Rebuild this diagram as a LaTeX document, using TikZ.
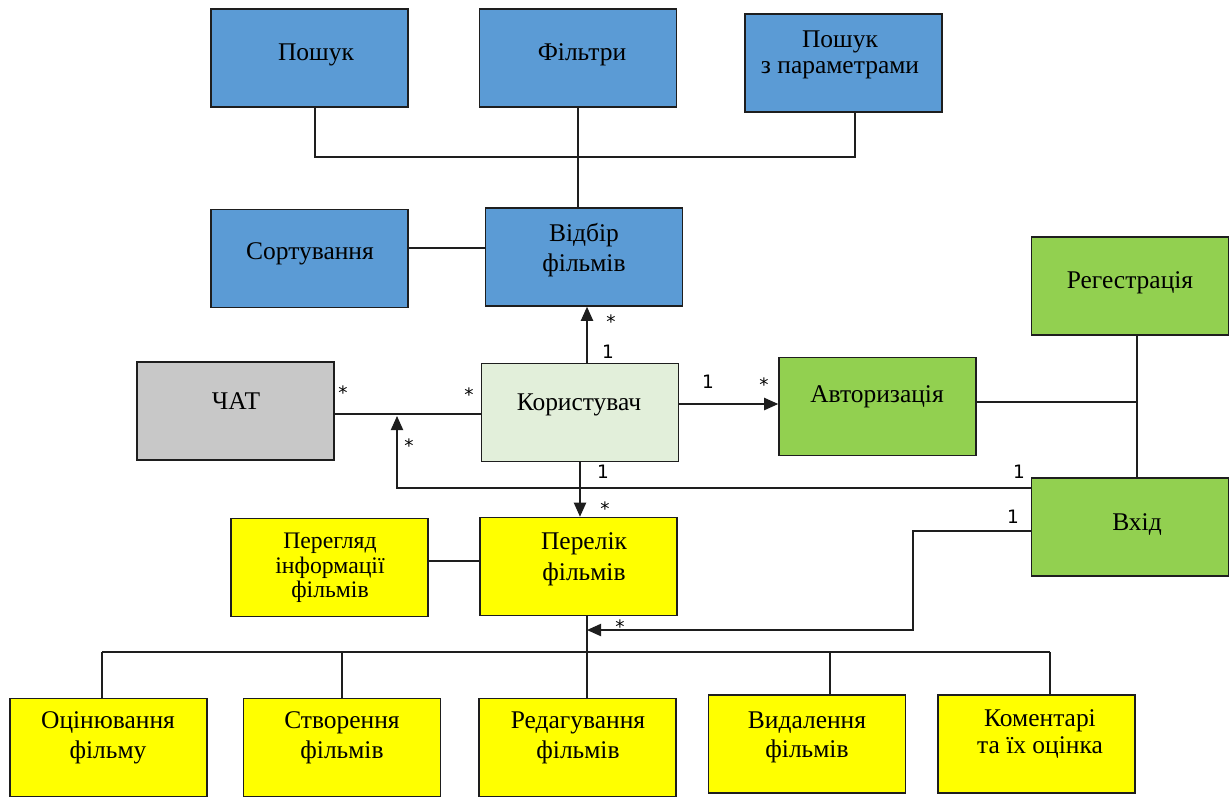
\documentclass[tikz,border=0pt]{standalone}
\usepackage{fontspec}
\setmainfont{Liberation Serif}
\newfontfamily\numfont{DejaVu Sans}
\usetikzlibrary{arrows.meta,calc}
\definecolor{cblue}{RGB}{91,155,213}
\definecolor{cgreen}{RGB}{146,208,80}
\definecolor{cyel}{RGB}{255,255,0}
\definecolor{cgray}{RGB}{200,200,200}
\definecolor{clight}{RGB}{226,239,218}
\definecolor{cline}{RGB}{30,30,30}
\begin{document}
\begin{tikzpicture}[x=0.02cm,y=-0.02cm,
  box/.style={draw=cline,line width=0.9pt,minimum width=3.94cm,minimum height=1.96cm,inner sep=0pt},
  bluebox/.style={box,fill=cblue},
  greenbox/.style={box,fill=cgreen},
  yelbox/.style={box,fill=cyel},
  txt/.style={align=center,inner sep=0pt,font=\fontsize{14.5}{28}\selectfont},
  stxt/.style={align=center,inner sep=0pt,font=\fontsize{13.5}{14}\selectfont},
  lbl/.style={inner sep=0pt,font=\numfont\fontsize{10.5}{12}\selectfont},
  ln/.style={draw=cline,line width=0.7pt},
  arr/.style={ln,-{Triangle[length=8pt,width=7pt]}}]
\useasboundingbox (0,0) rectangle (1230,796);
\clip (0,0) rectangle (1230,796);
% boxes
\node[bluebox] (posh) at (309.5,58) {};
\node[bluebox] (filt) at (578,58) {};
\node[bluebox] (poshp) at (843.5,63) {};
\node[bluebox] (sort) at (309.5,258.5) {};
\node[bluebox] (vidbir) at (584,257) {};
\node[greenbox] (reg) at (1130,286) {};
\node[box,fill=cgray] (chat) at (235.5,411) {};
\node[box,fill=clight] (kor) at (580,412.5) {};
\node[greenbox] (avt) at (877.5,406.5) {};
\node[greenbox] (vhid) at (1130,527) {};
\node[yelbox] (pereg) at (329.5,567.5) {};
\node[yelbox] (perel) at (578.5,566.5) {};
\node[yelbox] (ocin) at (108.5,747.5) {};
\node[yelbox] (stv) at (342,747.5) {};
\node[yelbox] (red) at (577.5,747.5) {};
\node[yelbox] (vid) at (807,744) {};
\node[yelbox] (kom) at (1036.5,744) {};
% texts
\node[txt] (t1) at (316,55) {Пошук};
\node[txt] (t2) at (582,55) {Фільтри};
\node[txt] (t3) at (840,55) {Пошук\\[-0.45cm]з параметрами};
\node[txt] (t4) at (310,254) {Сортування};
\node[txt] (t5) at (584,250) {Відбір\\[-0.37cm]фільмів};
\node[txt] (t6) at (1130,283) {Регестрація};
\node[txt] (t7) at (236,401) {ЧАТ};
\node[txt] (t8) at (579,405) {Користувач};
\node[txt] (t9) at (877,397) {Авторизація};
\node[txt] (t10) at (1137,525) {Вхід};
\node[stxt] (t11) at (330,568) {Перегляд\\інформації\\фільмів};
\node[txt] (t12) at (584,559) {Перелік\\[-0.37cm]фільмів};
\node[txt] (t13) at (108,738) {Оцінювання\\[-0.38cm]фільму};
\node[txt] (t14) at (342,738) {Створення\\[-0.38cm]фільмів};
\node[txt] (t15) at (578,738) {Редагування\\[-0.38cm]фільмів};
\node[txt] (t16) at (807,737) {Видалення\\[-0.4cm]фільмів};
\node[txt] (t17) at (1040,734) {Коментарі\\[-0.45cm]та їх оцінка};
% connection points
\coordinate (poshB) at ($(posh.south)+(5.5,0)$);
\coordinate (poshpB) at ($(poshp.south)+(11.5,0)$);
\coordinate (topbus) at (580,157);
\coordinate (sortR) at ($(sort.east)+(0,-10.5)$);
\coordinate (korT) at ($(kor.north)+(7,0)$);
\coordinate (korR) at ($(kor.east)+(0,-8.5)$);
\coordinate (chatR) at ($(chat.east)+(0,3)$);
\coordinate (vhidL1) at ($(vhid.west)+(0,-39)$);
\coordinate (chatj) at (397,416);
\coordinate (vhidL2) at ($(vhid.west)+(0,4)$);
\coordinate (vbend) at (913,630);
\coordinate (perelj) at (587,630);
\coordinate (avtR) at ($(avt.east)+(0,-4.5)$);
\coordinate (regB) at ($(reg.south)+(7,0)$);
\coordinate (peregR) at ($(pereg.east)+(0,-6.5)$);
\coordinate (perelB) at ($(perel.south)+(8.5,0)$);
\coordinate (bl) at (102,652);
\coordinate (br) at (1050,652);
\coordinate (ocinT) at ($(ocin.north)+(-6.5,0)$);
\coordinate (vidT) at ($(vid.north)+(23,0)$);
\coordinate (komT) at ($(kom.north)+(13.5,0)$);
% connectors
\draw[ln] (poshB) |- (topbus) -| (poshpB);
\draw[ln] (filt.south) -- (filt.south |- vidbir.north);
\draw[ln] (sortR) -- (sortR -| vidbir.west);
\draw[arr] (korT) -- (korT |- vidbir.south);
\draw[arr] (korR) -- (korR -| avt.west);
\draw[ln] (chatR) -- (chatR -| kor.west);
\draw[arr] (vhidL1) -| (chatj);
\draw[arr] (kor.south) -- (kor.south |- perel.north);
\draw[arr] (vhidL2) -| (vbend) -- (perelj);
\draw[ln] (avtR) -- (avtR -| regB);
\draw[ln] (regB) -- (regB |- vhid.north);
\draw[ln] (peregR) -- (peregR -| perel.west);
\draw[ln] (perelB) -- (perelB |- red.north);
\draw[ln] (bl) -- (br);
\draw[ln] (bl) -- (bl |- ocinT);
\draw[ln] (stv.north) -- (stv.north |- bl);
\draw[ln] (vidT) -- (vidT |- bl);
\draw[ln] (komT) -- (komT |- br);
% multiplicities
\node[lbl] (m1) at (608,352) {1};
\node[lbl] (m2) at (611,322) {*};
\node[lbl] (m3) at (708,382) {1};
\node[lbl] (m4) at (764,385) {*};
\node[lbl] (m5) at (343,393) {*};
\node[lbl] (m6) at (469,395) {*};
\node[lbl] (m7) at (1019,472) {1};
\node[lbl] (m8) at (409,446) {*};
\node[lbl] (m9) at (603,472) {1};
\node[lbl] (m10) at (605,509) {*};
\node[lbl] (m11) at (1013,517) {1};
\node[lbl] (m12) at (620,627) {*};
\end{tikzpicture}
\end{document}
